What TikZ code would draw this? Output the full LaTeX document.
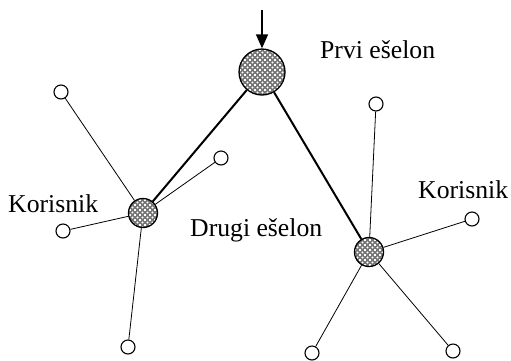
\documentclass[tikz,border=0pt]{standalone}
\usepackage{fontspec}
\setmainfont{Liberation Serif}
\usetikzlibrary{patterns,arrows.meta}
\pgfdeclarepatternformonly{hubdots}{\pgfqpoint{-1pt}{-1pt}}{\pgfqpoint{6pt}{6pt}}{\pgfqpoint{5pt}{5pt}}{%
  \pgfpathcircle{\pgfqpoint{0pt}{0pt}}{1.1pt}%
  \pgfpathcircle{\pgfqpoint{2.5pt}{2.5pt}}{1.1pt}%
  \pgfpathcircle{\pgfqpoint{5pt}{5pt}}{1.1pt}%
  \pgfpathcircle{\pgfqpoint{5pt}{0pt}}{1.1pt}%
  \pgfpathcircle{\pgfqpoint{0pt}{5pt}}{1.1pt}%
  \pgfusepath{fill}}
\begin{document}
\begin{tikzpicture}[x=1pt,y=-1pt,
  hub/.style={circle,draw,line width=1.3pt,inner sep=0pt,
    preaction={fill=black!55},pattern=hubdots,pattern color=white},
  leaf/.style={circle,draw,line width=1.1pt,fill=white,inner sep=0pt,minimum size=14pt},
  thin/.style={line width=0.8pt},
  thickl/.style={line width=2pt},
  lbl/.style={inner sep=0pt,anchor=base west,font=\fontsize{25.7}{30}\selectfont}]
\useasboundingbox (0,0) rectangle (511,360);
\node[hub,minimum size=46pt] (top) at (262,72) {};
\node[hub,minimum size=29pt] (lh) at (143,213) {};
\node[hub,minimum size=29pt] (rh) at (369,252) {};
\coordinate (in) at (262,10);
\node[leaf] (l1) at (61,92) {};
\node[leaf] (l2) at (221,158) {};
\node[leaf] (l3) at (63,231) {};
\node[leaf] (l4) at (128,347) {};
\node[leaf] (r1) at (376,104) {};
\node[leaf] (r2) at (472,219) {};
\node[leaf] (r3) at (312,353) {};
\node[leaf] (r4) at (453,351) {};
\draw[line width=1.5pt,-{Triangle[length=14pt,width=12pt]}] (in) -- (top);
\draw[thickl] (top) -- (lh);
\draw[thickl] (top) -- (rh);
\foreach \n in {l1,l2,l3,l4} \draw[thin] (lh) -- (\n);
\foreach \n in {r1,r2,r3,r4} \draw[thin] (rh) -- (\n);
\node[lbl] (t1) at (320,58) {Prvi ešelon};
\node[lbl] (t2) at (8,212) {Korisnik};
\node[lbl] (t3) at (190,236) {Drugi ešelon};
\node[lbl] (t4) at (418,198) {Korisnik};
\end{tikzpicture}
\end{document}
